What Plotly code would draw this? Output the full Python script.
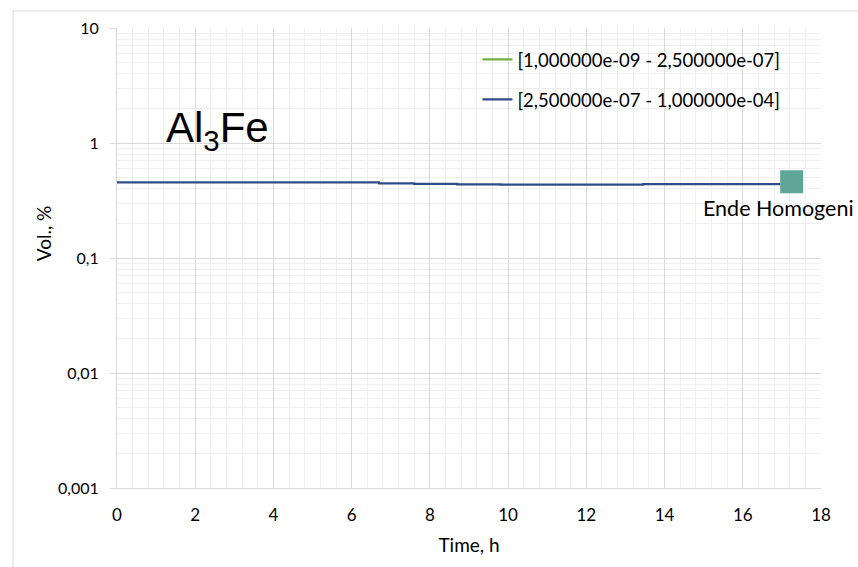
import math
import plotly.graph_objects as go

# Simulated precipitation of Al3Fe during homogenisation, volume fraction per size class
time_h = [0, 6.7, 7.6, 8.7, 9.8, 13.45, 17.0]
vol_fine = [0, 0, 0, 0, 0, 0, 0]                      # [1e-09 - 2.5e-07] class
vol_coarse = [0.455, 0.446, 0.441, 0.4375, 0.434, 0.44, 0.44]  # [2.5e-07 - 1e-04] class

end_time = [17.25]
end_vol = [0.46]
end_label = "Ende Homogeni"

series_names = ["[1,000000e-09 - 2,500000e-07]", "[2,500000e-07 - 1,000000e-04]"]
y_tickvals = [0.001, 0.01, 0.1, 1, 10]
y_ticktext = ["0,001", "0,01", "0,1", "1", "10"]
x_tickvals = [0, 2, 4, 6, 8, 10, 12, 14, 16, 18]

FONT = "Lato"

fig = go.Figure()
fig.add_trace(go.Scatter(
    x=time_h, y=vol_fine, mode="lines", name=series_names[0],
    line=dict(color="#70AD47", width=2.25, shape="hv"), legendgroup="a",
))
fig.add_trace(go.Scatter(
    x=time_h, y=vol_coarse, mode="lines", name=series_names[1],
    line=dict(color="#2E4C87", width=2.25, shape="hv"), legendgroup="b",
))
fig.add_trace(go.Scatter(
    x=end_time, y=end_vol, mode="markers", showlegend=False,
    marker=dict(symbol="square", size=23, color="#5FA699"),
))

# label below the end-of-homogenisation marker (log axis -> log10 position)
fig.add_annotation(
    x=end_time[0], y=math.log10(end_vol[0]), yref="y", xref="x", text=end_label,
    showarrow=False, xanchor="left", yanchor="middle", xshift=-91, yshift=-26,
    font=dict(family=FONT, size=21.5, color="#000000"),
)

fig.add_annotation(
    x=0.067, y=0.778, xref="paper", yref="paper",
    text="Al<sub>3</sub>Fe", showarrow=False, xanchor="left", yanchor="middle",
    font=dict(family="Liberation Sans", size=42, color="#000000"),
)

# y axis title
fig.add_annotation(
    x=-0.105, y=0.554, xref="paper", yref="paper", text="Vol., %",
    showarrow=False, textangle=-90, xanchor="center", yanchor="middle",
    font=dict(family=FONT, size=19, color="#000000"),
)

# outer chart frame (left and top edges)
fig.add_shape(type="line", xref="paper", yref="paper",
              x0=-0.1477, x1=-0.1477, y0=-0.3, y1=1.037,
              line=dict(color="#D9D9D9", width=1))
fig.add_shape(type="line", xref="paper", yref="paper",
              x0=-0.1477, x1=1.2, y0=1.037, y1=1.037,
              line=dict(color="#D9D9D9", width=1))

fig.update_layout(
    width=858, height=567,
    margin=dict(l=117, r=37, t=28, b=79),
    paper_bgcolor="white", plot_bgcolor="white",
    font=dict(family=FONT, size=16, color="#000000"),
    showlegend=True,
    legend=dict(
        x=0.512, y=0.972, xanchor="left", yanchor="top",
        bgcolor="rgba(0,0,0,0)", font=dict(family=FONT, size=18.5),
        traceorder="grouped", tracegroupgap=13, itemwidth=30,
    ),
    xaxis=dict(
        range=[0, 18], tickvals=x_tickvals, showgrid=True,
        gridcolor="#D9D9D9", gridwidth=1,
        minor=dict(dtick=0.4, showgrid=True, gridcolor="#EFEFEF", gridwidth=1),
        showline=True, linecolor="#D9D9D9", ticks="", zeroline=False,
        tickfont=dict(size=17), ticklabelstandoff=12,
        title=dict(text="Time, h", font=dict(size=19), standoff=14),
    ),
    yaxis=dict(
        type="log", range=[-3, 1], tickvals=y_tickvals, ticktext=y_ticktext,
        showgrid=True, gridcolor="#D9D9D9", gridwidth=1,
        minor=dict(dtick="D1", showgrid=True, gridcolor="#EFEFEF", gridwidth=1,
                   ticks=""),
        showline=True, linecolor="#D9D9D9", ticks="outside", ticklen=6,
        tickcolor="#D9D9D9", zeroline=False,
        tickfont=dict(size=16), ticklabelstandoff=8,
    ),
)

fig.write_html("out.html")
